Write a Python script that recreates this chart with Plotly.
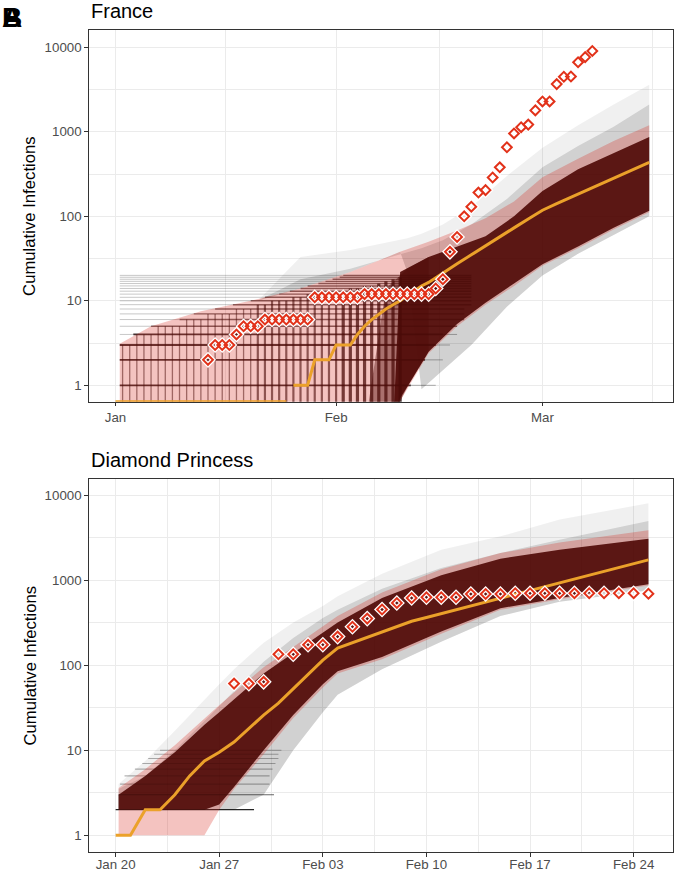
import pandas as pd
import plotly.graph_objects as go

FONT = "Liberation Sans, Arial, Helvetica, sans-serif"
FR_START = pd.Timestamp("2020-01-01")
DP_START = pd.Timestamp("2020-01-20")

RED = "#E2321A"
ORANGE = "#EBA12A"

# ---------------- France (days counted from Jan 1) ----------------
fr_obs_day = list(range(13, 68))
fr_obs_val = [2, 3, 3, 3, 4, 5, 5, 5, 6, 6, 6, 6, 6, 6, 6,
              11, 11, 11, 11, 11, 11, 11, 12, 12, 12, 12, 12, 12, 12, 12, 12, 12,
              14, 18, 38, 57, 100, 130, 191, 204, 288, 380, 656, 957, 1134, 1217,
              1792, 2289, 2289, 3672, 4480, 4513, 6650, 7652, 9043]

fr_med_day = list(range(0, 44)) + [44, 46, 48, 50, 52, 54, 56, 58, 60, 62, 64, 66, 68, 70, 72, 74, 75]
fr_med_val = [0, 0, 0, 0, 0, 0, 0, 0, 0, 0, 0, 0, 0, 0, 0, 0, 0, 0, 0, 0, 0, 0, 0, 0, 0,
              1, 1, 1, 2, 2, 2, 3, 3, 3, 4, 5, 6, 7, 8, 9, 10, 11.5, 13, 15,
              16.5, 21.5, 27.5, 35, 45, 57, 73, 93, 118, 141, 168, 200, 238, 283, 338, 403, 436]

# envelope of the faint grey trajectories
fr_gray_day = [20, 26, 33, 40, 41, 43, 46, 50, 55, 60, 65, 70, 75]
fr_gray_hi = [10, 33, 40, 52, 55, 62, 80, 130, 300, 650, 1200, 2100, 3600]
fr_gray_mid_hi = [10, 18, 24, 35, 37, 42, 52, 80, 160, 380, 680, 1150, 2100]
fr_gray_lo = [10, 14, 22, 38, 22, 0.9, 1.5, 3, 8.5, 20, 36, 60, 100]

# 95% ribbon
fr_pink_day = [0.6, 5, 12, 19, 26, 33, 40, 44, 48, 52, 56, 60, 65, 70, 75]
fr_pink_hi = [3.1, 5, 7.5, 10, 14, 22, 38, 50, 68, 95, 150, 290, 480, 780, 1200]
fr_pink_lo = [0, 0, 0, 0, 0, 0, 0.65, 2.4, 5, 9, 15, 26, 42, 70, 112]

# dense core of the trajectories (gradual onset, then solid)
fr_fade_day = [35, 38, 40, 41, 44]
fr_fade_hi = [0, 14, 20, 24, 33]
fr_fade_lo = [0, 0, 0.65, 0.95, 2.5]
fr_core_day = [39, 40, 44, 48, 52, 56, 60, 65, 70, 75]
fr_core_hi = [0, 22, 33, 44, 58, 100, 200, 360, 560, 870]
fr_core_lo = [0, 0.7, 2.5, 5.3, 9.5, 16, 27, 44, 73, 116]

# step texture of the simulated trajectories (France)
fr_hline_level = [1, 2, 3, 4, 5, 6, 7, 8, 9, 10, 11, 12, 13, 14, 15, 16, 17, 18, 19, 20]
fr_hline_dark_from = [0.6, 0.6, 0.6, 2.5, 5, 9, 11, 14, 16.5, 19, 21, 23, 24.5, 26, 27,
                      28.5, 29.5, 30.5, 31.5, 32]
fr_hline_dark_to = [41.5, 43.5, 45, 46, 48, 49, 49, 49, 50, 50, 50, 50, 50, 50, 50, 50, 50,
                    50, 50, 50]
fr_hline_end = [45, 46, 47, 48, 48, 49, 49, 49, 50, 50, 50, 50, 50, 50, 50, 50, 50, 50, 50, 50]
fr_vline_day = list(range(1, 41))
fr_vline_top = [3, 3, 4, 4, 4, 5, 5, 5, 5, 6, 6, 6, 7, 7, 7, 7, 8, 8, 8, 9, 9, 10,
                10, 10, 11, 11, 12, 12, 12, 13, 13, 13, 14, 14, 15, 15, 16, 17, 18, 19]

# ---------------- Diamond Princess (days counted from Jan 20) ----------------
dp_obs_day = list(range(8, 37))
dp_obs_val = [61, 61, 64, 135, 135, 175, 175, 218, 285, 355, 454, 542, 621,
              634, 634, 634, 691, 691, 691, 705, 705, 705, 705, 705, 705, 706, 706, 706, 696]

dp_med_day = list(range(0, 37))
dp_med_val = [1, 1, 2, 2, 3, 5, 7.5, 9.5, 12.5, 18, 26, 36, 53, 78, 115, 160, 185, 213, 246,
              285, 330, 366, 406, 451, 500, 555, 616, 684, 759, 842, 935, 1038, 1151, 1277,
              1418, 1574, 1746]

dp_band_day = [0.2, 2, 4, 6, 7, 8, 10, 12, 14, 15, 18, 22, 26, 30, 36]
dp_gray_hi = [4, 7.5, 17, 40, 60, 90, 185, 320, 500, 650, 1200, 2300, 3300, 5200, 8100]
dp_gray_mid_hi = [3.5, 5, 10, 22, 33, 50, 110, 210, 360, 450, 800, 1400, 2100, 3000, 5000]
dp_gray_lo = [2, 2, 2, 2, 2, 2, 3, 10, 28, 45, 90, 190, 380, 560, 760]
dp_core_hi = [3, 5, 9.5, 20, 28, 40, 80, 140, 240, 320, 620, 1150, 1800, 2300, 3100]
dp_core_lo = [2, 2, 2, 2, 2.3, 3.7, 10, 26, 60, 85, 125, 250, 470, 620, 900]
dp_pink_hi = [3.6, 6, 11.5, 24, 34, 48, 95, 165, 285, 380, 720, 1350, 2100, 2800, 3900]
dp_pink_lo = [1, 1, 1, 1, 2, 3.5, 9, 24, 55, 80, 118, 235, 450, 600, 870]

dp_hline_level = [2, 3, 4, 5, 6, 7, 8, 9, 10]
dp_hline_start = [0, 0.2, 0.3, 0.6, 1.3, 1.8, 2.2, 2.6, 3.0]
dp_hline_end = [9.35, 10.7, 10.4, 10.4, 10.6, 10.8, 11.0, 11.0, 11.2]

# ---------------- axes geometry ----------------
FR_YR = [-0.194, 4.205]
DP_YR = [-0.197, 4.19]
FR_XR = [-3.72, 78.34]
DP_XR = [-1.8, 37.66]
FLOOR = 0.3

fig = go.Figure()


def dates(start, days):
    return [start + pd.Timedelta(days=float(d)) for d in days]


def fix(vals):
    return [FLOOR if v <= 0 else v for v in vals]


def band(start, days, hi, lo, color, xa, ya):
    xs = dates(start, days)
    fig.add_trace(go.Scatter(x=xs + xs[::-1], y=fix(hi) + fix(lo)[::-1], mode="lines",
                             fill="toself", fillcolor=color, line=dict(width=0),
                             hoverinfo="skip", showlegend=False, xaxis=xa, yaxis=ya))


def hlines(start, levels, starts, ends, color, width, xa, ya):
    xs, ys = [], []
    for lv, s, e in zip(levels, starts, ends):
        if e <= s:
            continue
        xs += [start + pd.Timedelta(days=float(s)), start + pd.Timedelta(days=float(e)), None]
        ys += [lv, lv, None]
    fig.add_trace(go.Scatter(x=xs, y=ys, mode="lines", line=dict(color=color, width=width),
                             hoverinfo="skip", showlegend=False, xaxis=xa, yaxis=ya))


def vlines(start, days, tops, color, width, xa, ya):
    xs, ys = [], []
    for d, t in zip(days, tops):
        x = start + pd.Timedelta(days=float(d))
        xs += [x, x, None]
        ys += [FLOOR, t, None]
    fig.add_trace(go.Scatter(x=xs, y=ys, mode="lines", line=dict(color=color, width=width),
                             hoverinfo="skip", showlegend=False, xaxis=xa, yaxis=ya))


def line(start, days, vals, xa, ya, width=3):
    fig.add_trace(go.Scatter(x=dates(start, days), y=vals, mode="lines",
                             line=dict(color=ORANGE, width=width),
                             hoverinfo="skip", showlegend=False, xaxis=xa, yaxis=ya))


def diamonds(start, days, vals, xa, ya):
    xs = dates(start, days)
    fig.add_trace(go.Scatter(x=xs, y=vals, mode="markers",
                             marker=dict(symbol="diamond-open", size=7.5, color="white",
                                         line=dict(color="white", width=4.5)),
                             hoverinfo="skip", showlegend=False, xaxis=xa, yaxis=ya))
    fig.add_trace(go.Scatter(x=xs, y=vals, mode="markers",
                             marker=dict(symbol="diamond-open", size=7.5, color=RED,
                                         line=dict(color=RED, width=2)),
                             hoverinfo="skip", showlegend=False, xaxis=xa, yaxis=ya))


PINK = "rgba(215,40,30,0.28)"
GRAY1 = "rgba(0,0,0,0.06)"
GRAY2 = "rgba(0,0,0,0.13)"
CORE = "rgba(28,0,0,0.92)"

# ---- France panel ----
band(FR_START, fr_gray_day, fr_gray_hi, fr_gray_lo, GRAY1, "x", "y")
band(FR_START, fr_gray_day, fr_gray_mid_hi, fr_gray_lo, GRAY2, "x", "y")
band(FR_START, fr_fade_day, fr_fade_hi, fr_fade_lo, "rgba(28,0,0,0.45)", "x", "y")
band(FR_START, fr_core_day, fr_core_hi, fr_core_lo, CORE, "x", "y")
vlines(FR_START, fr_vline_day[0:19], fr_vline_top[0:19], "rgba(20,0,0,0.5)", 1.3, "x", "y")
vlines(FR_START, fr_vline_day[19:31], fr_vline_top[19:31], "rgba(20,0,0,0.6)", 2.2, "x", "y")
vlines(FR_START, fr_vline_day[31:], fr_vline_top[31:], "rgba(20,0,0,0.75)", 3.2, "x", "y")
n = len(fr_hline_level)
starts = [0.6 for _ in range(n)]
# lighter parts (outside the ribbon, few trajectories) and darker parts inside it
hlines(FR_START, fr_hline_level[3:], starts[3:], fr_hline_dark_from[3:], "rgba(0,0,0,0.22)", 1.0, "x", "y")
hlines(FR_START, fr_hline_level, fr_hline_dark_to, fr_hline_end, "rgba(0,0,0,0.3)", 1.0, "x", "y")
hlines(FR_START, fr_hline_level[0:4], fr_hline_dark_from[0:4], fr_hline_dark_to[0:4], "rgba(20,0,0,0.8)", 1.8, "x", "y")
hlines(FR_START, fr_hline_level[4:], fr_hline_dark_from[4:], fr_hline_dark_to[4:], "rgba(20,0,0,0.6)", 1.4, "x", "y")
band(FR_START, fr_pink_day, fr_pink_hi, fr_pink_lo, PINK, "x", "y")
# median: zero part sits on the lower edge of the panel (log of 0)
zero_days = [d for d, v in zip(fr_med_day, fr_med_val) if v == 0]
pos_days = [d for d, v in zip(fr_med_day, fr_med_val) if v > 0]
pos_vals = [v for v in fr_med_val if v > 0]
line(FR_START, zero_days, [10 ** FR_YR[0] for _ in zero_days], "x", "y")
line(FR_START, pos_days, pos_vals, "x", "y")
diamonds(FR_START, fr_obs_day, fr_obs_val, "x", "y")

# ---- Diamond Princess panel ----
band(DP_START, dp_band_day, dp_gray_hi, dp_gray_lo, GRAY1, "x2", "y2")
band(DP_START, dp_band_day, dp_gray_mid_hi, dp_gray_lo, GRAY2, "x2", "y2")
band(DP_START, dp_band_day, dp_core_hi, dp_core_lo, CORE, "x2", "y2")
hlines(DP_START, dp_hline_level[0:1], dp_hline_start[0:1], dp_hline_end[0:1], "rgba(0,0,0,0.85)", 1.3, "x2", "y2")
hlines(DP_START, dp_hline_level[1:2], dp_hline_start[1:2], dp_hline_end[1:2], "rgba(0,0,0,0.6)", 1.2, "x2", "y2")
hlines(DP_START, dp_hline_level[2:], dp_hline_start[2:], dp_hline_end[2:], "rgba(0,0,0,0.3)", 1.1, "x2", "y2")
band(DP_START, dp_band_day, dp_pink_hi, dp_pink_lo, PINK, "x2", "y2")
line(DP_START, dp_med_day, dp_med_val, "x2", "y2")
diamonds(DP_START, dp_obs_day, dp_obs_val, "x2", "y2")

# ---------------- layout ----------------
GRID = "#EBEBEB"
BORDER = "#333333"
TICKFONT = dict(family=FONT, size=13.3, color="#4D4D4D")


def xaxis(start, xr, tickvals, ticktext, minorvals, anchor, standoff=0):
    return dict(type="date", anchor=anchor, domain=[0, 1],
                range=[str(start + pd.Timedelta(days=xr[0])), str(start + pd.Timedelta(days=xr[1]))],
                tickmode="array", tickvals=tickvals, ticktext=ticktext,
                showline=True, mirror=True, linecolor=BORDER, linewidth=1.07,
                ticks="outside", ticklen=3.7, tickwidth=1.07, tickcolor=BORDER,
                showgrid=True, gridcolor=GRID, gridwidth=1.07, zeroline=False,
                tickfont=TICKFONT, automargin=False, ticklabelstandoff=standoff,
                minor=dict(tickmode="array", tickvals=minorvals, showgrid=True,
                           gridcolor=GRID, gridwidth=0.55, ticks=""))


def yaxis(yr, domain, anchor):
    return dict(type="log", anchor=anchor, domain=domain, range=yr,
                tickmode="array", tickvals=[1, 10, 100, 1000, 10000],
                ticktext=["1", "10", "100", "1000", "10000"],
                showline=True, mirror=True, linecolor=BORDER, linewidth=1.07,
                ticks="outside", ticklen=3.7, tickwidth=1.07, tickcolor=BORDER,
                showgrid=True, gridcolor=GRID, gridwidth=1.07, zeroline=False,
                tickfont=TICKFONT, automargin=False,
                minor=dict(tickmode="array", tickvals=[3.1623, 31.623, 316.23, 3162.3],
                           showgrid=True, gridcolor=GRID, gridwidth=0.55, ticks=""))


fr_tickvals = ["2020-01-01", "2020-02-01", "2020-03-01"]
fr_ticktext = ["Jan", "Feb", "Mar"]
fr_minor = ["2020-01-16 12:00", "2020-02-15 12:00", "2020-03-16 12:00"]
dp_tickvals = ["2020-01-20", "2020-01-27", "2020-02-03", "2020-02-10", "2020-02-17", "2020-02-24"]
dp_ticktext = ["Jan 20", "Jan 27", "Feb 03", "Feb 10", "Feb 17", "Feb 24"]
dp_minor = ["2020-01-23 12:00", "2020-01-30 12:00", "2020-02-06 12:00",
            "2020-02-13 12:00", "2020-02-20 12:00", "2020-02-27 12:00"]

H_PLOT = 822.0


def py(px):
    return (852.0 - px) / H_PLOT


def px_x(px):
    return (px - 89.0) / 584.0


annotations = [
    dict(text="France", x=0.0, y=py(11), xref="paper", yref="paper", xanchor="left",
         yanchor="middle", showarrow=False, font=dict(family=FONT, size=20, color="black")),
    dict(text="Diamond Princess", x=0.0, y=py(460), xref="paper", yref="paper", xanchor="left",
         yanchor="middle", showarrow=False, font=dict(family=FONT, size=20, color="black")),
    dict(text="Cumulative Infections", x=px_x(30), y=py(215.9), xref="paper", yref="paper",
         xanchor="center", yanchor="middle", textangle=-90, showarrow=False,
         font=dict(family=FONT, size=16.7, color="black")),
    dict(text="Cumulative Infections", x=px_x(30), y=py(665.5), xref="paper", yref="paper",
         xanchor="center", yanchor="middle", textangle=-90, showarrow=False,
         font=dict(family=FONT, size=16.7, color="black")),
    dict(text="<b>A</b>", x=px_x(0.5), y=py(1), xref="paper", yref="paper", xanchor="left",
         yanchor="top", showarrow=False, borderpad=0,
         font=dict(family=FONT, size=28, color="black")),
    dict(text="<b>B</b>", x=px_x(0.5), y=py(1), xref="paper", yref="paper", xanchor="left",
         yanchor="top", showarrow=False, borderpad=0,
         font=dict(family=FONT, size=28, color="black")),
]

fig.update_layout(
    width=677, height=872, autosize=False,
    margin=dict(l=89, r=4, t=30, b=20, pad=0),
    paper_bgcolor="white", plot_bgcolor="white",
    font=dict(family=FONT),
    showlegend=False,
    xaxis=xaxis(FR_START, FR_XR, fr_tickvals, fr_ticktext, fr_minor, "y"),
    yaxis=yaxis(FR_YR, [py(401.7), 1.0], "x"),
    xaxis2=xaxis(DP_START, DP_XR, dp_tickvals, dp_ticktext, dp_minor, "y2", standoff=-4),
    yaxis2=yaxis(DP_YR, [0.0, py(479.3)], "x2"),
    annotations=annotations,
)

fig.write_html(
    "out.html",
    config={"displayModeBar": False},
    post_script="document.body.style.margin='0px';document.body.style.padding='0px';"
                "document.documentElement.style.overflow='hidden';",
)
